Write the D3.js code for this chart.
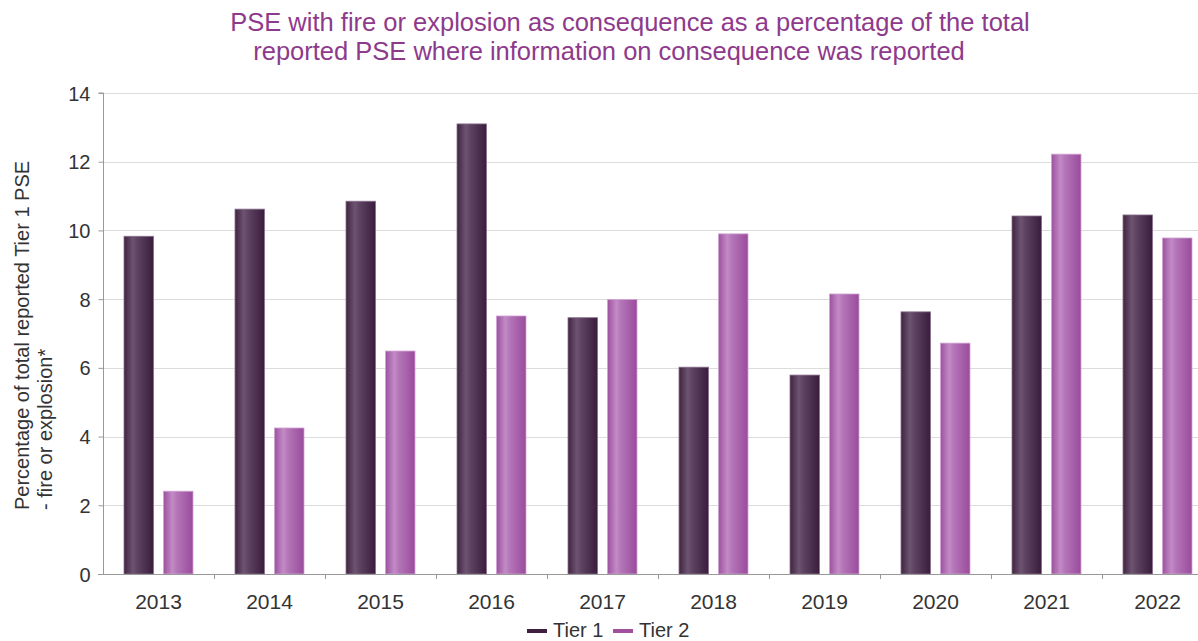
<!DOCTYPE html>
<html>
<head>
<meta charset="utf-8">
<script src="https://cdn.jsdelivr.net/npm/d3@7"></script>
<style>
  html, body { margin: 0; padding: 0; background: #fff; }
  svg { display: block; font-family: "Liberation Sans", Arial, sans-serif; }
</style>
</head>
<body>
<svg id="chart" width="1198" height="641"></svg>
<script>
// Chart data
const years = ["2013", "2014", "2015", "2016", "2017", "2018", "2019", "2020", "2021", "2022"];
const tier1 = [9.83, 10.62, 10.85, 13.1, 7.46, 6.02, 5.79, 7.63, 10.42, 10.45];
const tier2 = [2.41, 4.25, 6.49, 7.51, 7.99, 9.9, 8.15, 6.72, 12.22, 9.78];
const seriesNames = ["Tier 1", "Tier 2"];
const yTicks = [0, 2, 4, 6, 8, 10, 12, 14];

const svg = d3.select("#chart");
const W = 1198;
const plot = { left: 103, top: 93, bottom: 574, band: 111 };
const FONT = "Liberation Sans, Arial, sans-serif";

const x = d3.scaleBand()
  .domain(years)
  .range([plot.left, plot.left + plot.band * years.length]);
const y = d3.scaleLinear().domain([0, 14]).range([plot.bottom, plot.top]);

const barW = 29.5, gap = 10;
const inner = d3.scaleOrdinal().domain(seriesNames)
  .range([(x.bandwidth() - 2 * barW - gap) / 2, (x.bandwidth() - 2 * barW - gap) / 2 + barW + gap]);

// Horizontal gradients giving the bars a rounded look
const defs = svg.append("defs");
const grads = [
  { id: "g1", stops: [["0%", "#3f2440"], ["30%", "#6d5470"], ["45%", "#5e4462"], ["100%", "#3a1c3c"]] },
  { id: "g2", stops: [["0%", "#9c529f"], ["30%", "#c38ac6"], ["45%", "#b476b8"], ["100%", "#9a4b9c"]] }
];
grads.forEach(g => {
  const lg = defs.append("linearGradient").attr("id", g.id)
    .attr("x1", "0%").attr("x2", "100%").attr("y1", "0%").attr("y2", "0%");
  g.stops.forEach(s => lg.append("stop").attr("offset", s[0]).attr("stop-color", s[1]));
});

// Gridlines
svg.append("g").selectAll("line").data(yTicks.filter(d => d > 0)).join("line")
  .attr("x1", plot.left).attr("x2", W)
  .attr("y1", d => Math.round(y(d)) + 0.5).attr("y2", d => Math.round(y(d)) + 0.5)
  .attr("stroke", "#dcdcdc").attr("stroke-width", 1);

// Bars
const series = [
  { name: seriesNames[0], values: tier1, fill: "url(#g1)", stroke: "#8a6f8c" },
  { name: seriesNames[1], values: tier2, fill: "url(#g2)", stroke: "#d2a3d4" }
];
series.forEach(s => {
  svg.append("g").selectAll("rect").data(years).join("rect")
    .attr("x", (d) => x(d) + inner(s.name))
    .attr("width", barW)
    .attr("y", (d, i) => y(s.values[i]))
    .attr("height", (d, i) => plot.bottom - y(s.values[i]))
    .attr("fill", s.fill)
    .attr("stroke", s.stroke)
    .attr("stroke-width", 0.8);
});

// Y axis
const yAxis = d3.axisLeft(y).tickValues(yTicks).tickSize(5).tickPadding(8);
const gy = svg.append("g").attr("transform", `translate(${plot.left + 0.5},0)`).call(yAxis);
gy.attr("font-size", null).attr("font-family", null);
gy.select(".domain").attr("stroke", "#999").attr("d", `M-5,${plot.top}H0V${plot.bottom}`);
gy.selectAll(".tick line").attr("stroke", "#999");
gy.selectAll(".tick text").style("font-size", "20px").attr("fill", "#333")
  .style("font-family", FONT).attr("dy", "0.35em");

// X axis
const xAxis = d3.axisBottom(x).tickSize(0).tickPadding(0);
const gx = svg.append("g").attr("transform", `translate(0,${plot.bottom + 0.5})`).call(xAxis);
gx.attr("font-size", null).attr("font-family", null);
gx.select(".domain").attr("stroke", "#999").attr("d", `M${plot.left - 5},0H${W}`);
gx.selectAll(".tick text").style("font-size", "21px").attr("fill", "#333")
  .style("font-family", FONT).attr("y", 34).attr("dy", null);
// Tick marks between categories
svg.append("g").selectAll("line").data(years.slice(1)).join("line")
  .attr("x1", d => Math.round(x(d)) + 0.5).attr("x2", d => Math.round(x(d)) + 0.5)
  .attr("y1", plot.bottom).attr("y2", plot.bottom + 5)
  .attr("stroke", "#999");

// Title
const title = svg.append("text").attr("text-anchor", "middle")
  .attr("fill", "#8e3a8c").style("font-size", "25.5px");
title.append("tspan").attr("x", 630).attr("y", 31)
  .text("PSE with fire or explosion as consequence as a percentage of the total");
title.append("tspan").attr("x", 609).attr("y", 60)
  .text("reported PSE where information on consequence was reported");

// Y axis label
const yl = svg.append("text").attr("transform", "rotate(-90)")
  .attr("text-anchor", "start").attr("fill", "#333").style("font-size", "20px");
yl.append("tspan").attr("x", -510).attr("y", 29).text("Percentage of total reported Tier 1 PSE");
yl.append("tspan").attr("x", -510).attr("y", 52).text("- fire or explosion*");

// Legend
const legend = svg.append("g").attr("transform", "translate(527,631)");
const legendItems = [
  { name: seriesNames[0], color: "#3f2040", dx: 0 },
  { name: seriesNames[1], color: "#a0509f", dx: 86 }
];
legendItems.forEach(it => {
  legend.append("line").attr("x1", it.dx).attr("x2", it.dx + 20)
    .attr("y1", 0).attr("y2", 0).attr("stroke", it.color).attr("stroke-width", 4);
  legend.append("text").attr("x", it.dx + 26).attr("y", 6)
    .style("font-size", "20px").attr("fill", "#333").text(it.name);
});
</script>
</body>
</html>
